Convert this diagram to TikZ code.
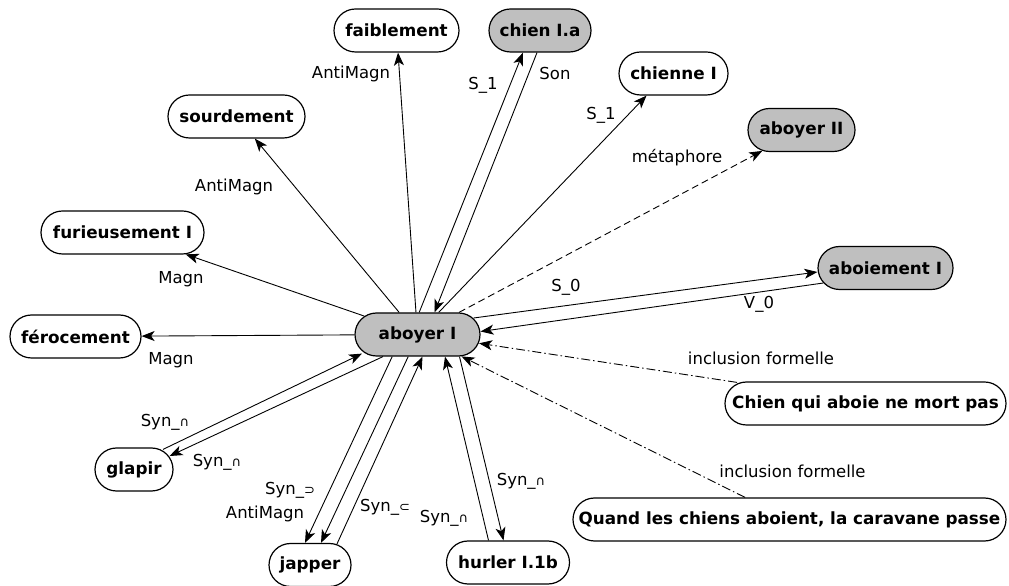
\documentclass[tikz,border=0pt]{standalone}
\usepackage{fontspec}
\setmainfont{DejaVu Sans}
\usetikzlibrary{shapes.misc,arrows.meta}
\definecolor{nodegray}{RGB}{191,191,191}
\newcommand{\smsym}[1]{{\fontsize{13}{13}\selectfont #1}}
\begin{document}
\begin{tikzpicture}[x=1pt,y=1pt,
  lex/.style={rounded rectangle, draw, line width=1.2pt, minimum height=43pt,
    inner xsep=2pt, inner ysep=0pt, fill=white,
    font=\fontsize{16.8}{20}\selectfont\bfseries},
  lexg/.style={lex, fill=nodegray},
  rel/.style={line width=0.9pt, -{Stealth[length=13pt,width=10pt,inset=3.5pt]}},
  meta/.style={rel, dash pattern=on 7pt off 4pt},
  incl/.style={rel, dash pattern=on 9pt off 3pt on 1.5pt off 3pt},
  lbl/.style={font=\fontsize{16.5}{20}\selectfont, inner sep=0pt}]
\useasboundingbox (0,0) rectangle (1009,586);

% nodes
\node[lexg, minimum width=129pt] (aboyerI) at (417.5,251.5) {aboyer I};
\node[lex, minimum width=129pt] (faiblement) at (396.5,555.5) {faiblement};
\node[lexg, minimum width=106pt] (chienIa) at (540,555.5) {chien I.a};
\node[lex, minimum width=113pt] (chienne) at (673.5,512.5) {chienne I};
\node[lexg, minimum width=111pt] (aboyerII) at (801.5,456) {aboyer II};
\node[lex, minimum width=141pt] (sourdement) at (236.5,469.5) {sourdement};
\node[lex, minimum width=167pt] (furieusement) at (122.5,353.5) {furieusement I};
\node[lexg, minimum width=139pt] (aboiement) at (885.5,318) {aboiement I};
\node[lex, minimum width=135pt] (ferocement) at (75.5,249.5) {férocement};
\node[lex, minimum width=285pt] (chienqui) at (865.5,182.5) {Chien qui aboie ne mort pas};
\node[lex, minimum width=82pt] (glapir) at (134,116.5) {glapir};
\node[lex, minimum width=437pt] (quand) at (789.5,66.5) {Quand les chiens aboient, la caravane passe};
\node[lex, minimum width=86pt] (japper) at (310,21) {japper};
\node[lex, minimum width=127pt] (hurler) at (508,23.5) {hurler I.1b};

% single relations
\draw[rel] (aboyerI) -- (ferocement);
\draw[rel] (aboyerI) -- (furieusement);
\draw[rel] (aboyerI) -- (sourdement);
\draw[rel] (aboyerI) -- (faiblement);
\draw[rel] (aboyerI) -- ([xshift=-27pt]chienne.south);
\draw[meta] (aboyerI) -- (aboyerII);

% chien I.a
\draw[rel] ([xshift=1.7pt]aboyerI.north) -- ([xshift=-17pt]chienIa.south);
\draw[rel] ([xshift=-3pt]chienIa.south) -- ([xshift=17pt]aboyerI.north);

% aboiement I
\draw[rel] ([shift={(-7pt,16.5pt)}]aboyerI.east) -- ([yshift=-4pt]aboiement.west);
\draw[rel] ([shift={(6pt,-15pt)}]aboiement.west) -- ([yshift=3pt]aboyerI.east);

% inclusions
\draw[incl] ([shift={(-128.5pt,-1pt)}]chienqui.north) -- ([shift={(-1.5pt,-8.8pt)}]aboyerI.east);
\draw[incl] (quand) -- (aboyerI);

% glapir
\draw[rel] ([shift={(29pt,-2pt)}]glapir.north) -- ([shift={(-55.5pt,3pt)}]aboyerI.south);
\draw[rel] ([xshift=-34.5pt]aboyerI.south) -- ([shift={(-4pt,13.5pt)}]glapir.east);

% japper
\draw[rel] ([xshift=-25.3pt]aboyerI.south) -- ([xshift=-5pt]japper.north);
\draw[rel] ([xshift=-9.3pt]aboyerI.south) -- ([xshift=11pt]japper.north);
\draw[rel] ([shift={(27pt,-1pt)}]japper.north) -- ([xshift=5pt]aboyerI.south);

% hurler
\draw[rel] ([xshift=-19.5pt]hurler.north) -- ([xshift=27.5pt]aboyerI.south);
\draw[rel] ([xshift=42pt]aboyerI.south) -- ([xshift=-4.5pt]hurler.north);

% labels
\node[lbl] (lMagnA) at (171,226) {Magn};
\node[lbl] (lMagnB) at (181,307) {Magn};
\node[lbl] (lAntiA) at (234,399) {AntiMagn};
\node[lbl] (lAntiB) at (351,512.5) {AntiMagn};
\node[lbl] (lSA) at (483,501) {S\_1};
\node[lbl] (lSon) at (555,512) {Son};
\node[lbl] (lSB) at (601,470.5) {S\_1};
\node[lbl] (lmeta) at (677,428) {métaphore};
\node[lbl] (lS0) at (566,299) {S\_0};
\node[lbl] (lV0) at (759,282) {V\_0};
\node[lbl] (linclA) at (761,228) {inclusion formelle};
\node[lbl] (linclB) at (792.5,115) {inclusion formelle};
\node[lbl] (lgA) at (165,164) {Syn\_\smsym{∩}};
\node[lbl] (lgB) at (217,124) {Syn\_\smsym{∩}};
\node[lbl] (ljA) at (290,96) {Syn\_\smsym{⊃}};
\node[lbl] (ljB) at (265,72) {AntiMagn};
\node[lbl] (ljC) at (385,79) {Syn\_\smsym{⊂}};
\node[lbl] (lhA) at (444,68) {Syn\_\smsym{∩}};
\node[lbl] (lhB) at (521,105) {Syn\_\smsym{∩}};
\end{tikzpicture}
\end{document}
